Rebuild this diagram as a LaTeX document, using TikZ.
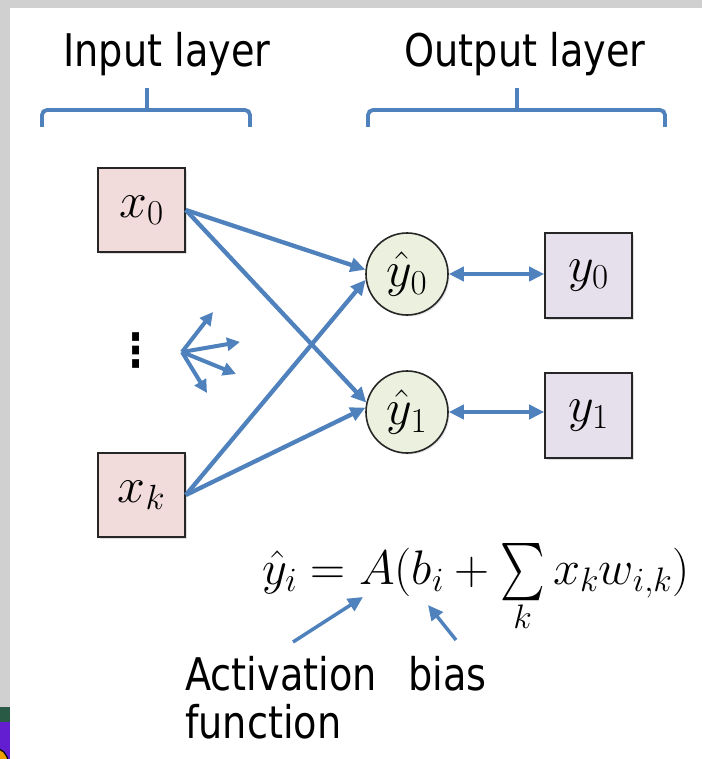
\RequirePackage{fix-cm}
\documentclass[tikz,border=0pt]{standalone}
\usepackage{exscale}
\usepackage{graphicx}
\usepackage{fontspec}
\newfontfamily\lblfont[FakeStretch=0.85]{DejaVu Sans}
\usetikzlibrary{arrows.meta,shadows,calc}
\definecolor{arrowblue}{RGB}{79,129,189}
\definecolor{xfill}{RGB}{242,220,219}
\definecolor{hfill}{RGB}{235,241,222}
\definecolor{yfill}{RGB}{229,224,236}
\definecolor{framegrey}{RGB}{208,208,208}
\definecolor{edgegreen}{RGB}{40,90,70}
\definecolor{edgepurple}{RGB}{100,30,210}
\definecolor{edgeorange}{RGB}{240,160,0}
\newcommand{\bigsumop}{\mathop{\vcenter{\hbox{\scalebox{1.7}[2.3]{$\textstyle\sum$}}}}\limits}
\tikzset{
  mathlbl/.style={font=\fontsize{50}{58}\selectfont},
  inbox/.style={draw=black!85, line width=1.6pt, fill=xfill, minimum width=87pt, minimum height=84pt, inner sep=0pt, mathlbl,
    drop shadow={shadow xshift=2pt, shadow yshift=-2pt, opacity=0.25}},
  outbox/.style={inbox, fill=yfill, minimum height=85pt},
  hidcirc/.style={circle, draw=black!85, line width=1.6pt, fill=hfill, minimum size=82pt, inner sep=0pt, mathlbl,
    drop shadow={shadow xshift=1.5pt, shadow yshift=-1.5pt, opacity=0.2}},
  wire/.style={draw=arrowblue, line width=4.3pt, -{Triangle[length=15pt,width=14pt]}},
  biwire/.style={draw=arrowblue, line width=4.3pt, {Triangle[length=15pt,width=14pt]}-{Triangle[length=15pt,width=14pt]}},
  burst/.style={draw=arrowblue, line width=4pt, -{Triangle[length=13pt,width=13pt]}},
  note/.style={draw=arrowblue, line width=3.5pt, -{Triangle[length=15pt,width=14pt]}},
  bracket/.style={draw=arrowblue, line width=3.8pt, rounded corners=5pt},
  lbl/.style={font=\lblfont\fontsize{45}{54}\selectfont, inner sep=0pt}
}
\begin{document}
\begin{tikzpicture}[x=1pt,y=-1pt]
\useasboundingbox (0,0) rectangle (702,759);
% screenshot frame
\fill[framegrey] (0,0) rectangle (702,759);
\fill[white] (10,8) rectangle (702,759);
\fill[edgegreen] (0,707) rectangle (9.5,722);
\fill[edgepurple] (0,722) rectangle (9.5,759);
\begin{scope}
\clip (0,722) rectangle (9.5,759);
\fill[edgeorange, draw=black, line width=1.2pt] (-6,762) circle (14);
\end{scope}

% layer titles
\node[lbl, anchor=base] (inTitle) at (167,67) {Input layer};
\node[lbl, anchor=base] (outTitle) at (525,67) {Output layer};
% brackets
\draw[bracket] (42,127) -- (42,110) -- (250,110) -- (250,127);
\draw[bracket] (147,110) -- (147,88);
\draw[bracket] (368,127) -- (368,110) -- (665,110) -- (665,127);
\draw[bracket] (517,110) -- (517,88);

% nodes
\node[inbox] (x0) at (141.5,210) {$x_0$};
\node[inbox] (xk) at (141.5,495) {$x_k$};
\node[hidcirc] (h0) at (407,274) {$\hat{y}_0$};
\node[hidcirc] (h1) at (407,412) {$\hat{y}_1$};
\node[outbox] (y0) at (588.5,275.5) {$y_0$};
\node[outbox] (y1) at (588.5,415.5) {$y_1$};
\node[inner sep=0pt, font=\lblfont\bfseries\fontsize{46}{46}\selectfont] (dots) at (136,351) {⋮};

% connections
\draw[wire] (x0.east) -- (h0.174);
\draw[wire] (x0.east) -- (h1.167);
\draw[wire] (xk.east) -- (h0.188);
\draw[wire] (xk.east) -- (h1.174);
\draw[biwire] (h0.east) -- (h0.east -| y0.west);
\draw[biwire] (h1.east) -- (h1.east -| y1.west);

% burst of arrows
\coordinate (bo) at (182,352);
\coordinate (b1) at (213,312);
\coordinate (b2) at (240,342);
\coordinate (b3) at (236,374);
\coordinate (b4) at (207,393);
\draw[burst] (bo) -- (b1);
\draw[burst] (bo) -- (b2);
\draw[burst] (bo) -- (b3);
\draw[burst] (bo) -- (b4);

% equation
\node[anchor=base west, inner sep=0pt, font=\fontsize{48.5}{56}\selectfont] (eq) at (262,584)
  {$\hat{y}_i = A(b_i + \bigsumop_{k} x_k w_{i,k})$};

% annotations
\node[lbl, anchor=base west] (act) at (185,690) {Activation};
\node[lbl, anchor=base west] (bias) at (408,690) {bias};
\node[lbl, anchor=base west] (func) at (185,738) {function};
\coordinate (actTail) at (293,642);
\coordinate (actTip) at (363,597);
\coordinate (biasTail) at (456,640);
\coordinate (biasTip) at (428,605);
\draw[note] (actTail) -- (actTip);
\draw[note] (biasTail) -- (biasTip);
\end{tikzpicture}
\end{document}
